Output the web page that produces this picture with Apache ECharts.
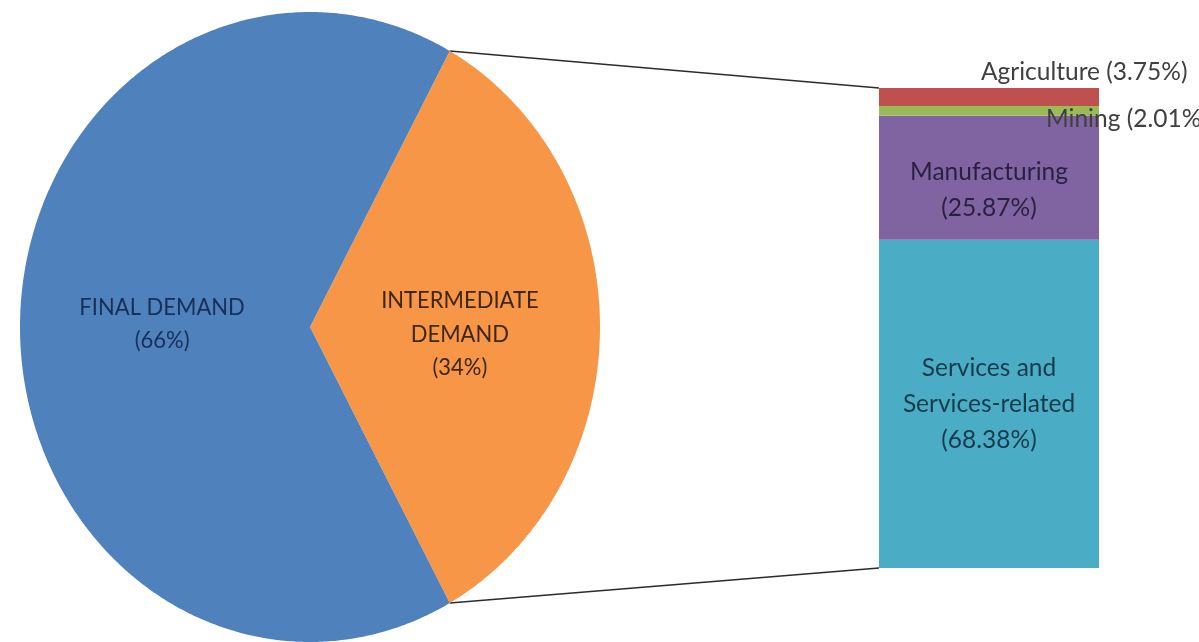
<!DOCTYPE html>
<html>
<head>
<meta charset="utf-8">
<script src="https://cdn.jsdelivr.net/npm/echarts@6/dist/echarts.min.js"></script>
<style>
  html, body { margin: 0; padding: 0; background: #ffffff; }
  #chart { width: 1199px; height: 642px; }
</style>
</head>
<body>
<div id="chart"></div>
<script>
// Split of total demand
const demandNames = ['INTERMEDIATE\nDEMAND', 'FINAL DEMAND'];
const demandShares = [34, 66];
const demandColors = ['#F79646', '#4F81BD'];
const demandTextColors = ['#3f2710', '#17305a'];
const demandLabelShift = [[2, 7], [0, -3]];

// Breakdown of intermediate demand by sector (stacked bottom to top)
const sectorNames = ['Services and\nServices-related', 'Manufacturing', 'Mining', 'Agriculture'];
const sectorShares = [68.38, 25.87, 2.01, 3.75];
const sectorColors = ['#4BACC6', '#8064A2', '#9BBB59', '#C0504D'];
const sectorTextColors = ['#163b4c', '#2a1f40', '#404040', '#404040'];

const FONT = 'Lato, "Noto Sans", sans-serif';

const demandTotal = demandShares.reduce((a, b) => a + b, 0);
const sectorTotal = sectorShares.reduce((a, b) => a + b, 0);

// The intermediate slice is centred on the right-hand horizontal.
const startAngle = 180 * demandShares[0] / demandTotal;

function sliceAngles(i) {
  let a0 = startAngle;
  for (let k = 0; k < i; k++) a0 -= 360 * demandShares[k] / demandTotal;
  return [a0, a0 - 360 * demandShares[i] / demandTotal];
}

function renderSlice(params, api) {
  const i = params.dataIndex;
  const [a0, a1] = sliceAngles(i);
  const pts = [api.coord([0, 0])];
  const steps = Math.ceil(Math.abs(a0 - a1) * 2);
  for (let s = 0; s <= steps; s++) {
    const t = (a0 + (a1 - a0) * s / steps) * Math.PI / 180;
    pts.push(api.coord([Math.cos(t), Math.sin(t)]));
  }
  const mid = (a0 + a1) / 2 * Math.PI / 180;
  const lp = api.coord([0.51 * Math.cos(mid), 0.51 * Math.sin(mid)]);
  return {
    type: 'group',
    children: [
      { type: 'polygon', shape: { points: pts }, style: { fill: demandColors[i] } },
      {
        type: 'text',
        x: lp[0] + demandLabelShift[i][0],
        y: lp[1] + demandLabelShift[i][1],
        scaleY: 1.08,
        z2: 10,
        style: {
          text: demandNames[i] + '\n(' + api.value(2) + '%)',
          fill: demandTextColors[i],
          fontFamily: FONT, fontSize: 22, lineHeight: 31,
          align: 'center', verticalAlign: 'middle'
        }
      }
    ]
  };
}

const labelPlacement = [
  { position: 'inside', offset: [0, 0] },
  { position: 'inside', offset: [0, 12] },
  { position: [167, 13], align: 'left', verticalAlign: 'middle' },
  { position: [102, -16], align: 'left', verticalAlign: 'middle' }
];

const barSeries = sectorNames.map((name, i) => ({
  type: 'bar',
  name: name,
  stack: 'sector',
  xAxisIndex: 1,
  yAxisIndex: 1,
  barWidth: '100%',
  data: [sectorShares[i]],
  itemStyle: { color: sectorColors[i] },
  silent: true,
  label: Object.assign({
    show: true,
    fontFamily: FONT,
    fontSize: 24.5,
    lineHeight: 36,
    color: sectorTextColors[i],
    formatter: () => i < 2
      ? name + '\n(' + sectorShares[i].toFixed(2) + '%)'
      : name + ' (' + sectorShares[i].toFixed(2) + '%)'
  }, labelPlacement[i])
}));

const chart = echarts.init(document.getElementById('chart'), null, { renderer: 'canvas' });

chart.setOption({
  animation: false,
  backgroundColor: '#ffffff',
  grid: [
    { left: 20, top: 12, width: 580, height: 634 },
    { left: 879, top: 88, width: 220, height: 480 }
  ],
  xAxis: [
    { type: 'value', gridIndex: 0, min: -1, max: 1, show: false },
    { type: 'category', gridIndex: 1, data: ['IO'], show: false }
  ],
  yAxis: [
    { type: 'value', gridIndex: 0, min: -1, max: 1, show: false },
    { type: 'value', gridIndex: 1, min: 0, max: sectorTotal, show: false }
  ],
  series: [
    {
      type: 'custom',
      xAxisIndex: 0,
      yAxisIndex: 0,
      silent: true,
      renderItem: renderSlice,
      encode: { x: 0, y: 1 },
      data: demandShares.map(v => [0, 0, v])
    }
  ].concat(barSeries)
});

// Connector lines from the intermediate slice edges to the bar corners
function drawConnectors() {
  const a = startAngle * Math.PI / 180;
  const pTop = chart.convertToPixel({ gridIndex: 0 }, [Math.cos(a), Math.sin(a)]);
  const pBot = chart.convertToPixel({ gridIndex: 0 }, [Math.cos(-a), Math.sin(-a)]);
  const bandAxis = chart.getModel().getComponent('xAxis', 1).axis;
  const bw = bandAxis.getBandWidth();
  const bTop = chart.convertToPixel({ gridIndex: 1 }, ['IO', sectorTotal]);
  const bBot = chart.convertToPixel({ gridIndex: 1 }, ['IO', 0]);
  const left = bTop[0] - bw / 2;
  const lineStyle = { stroke: '#2b2b2b', lineWidth: 1.5 };
  chart.setOption({
    graphic: [
      { type: 'line', shape: { x1: pTop[0], y1: pTop[1], x2: left, y2: bTop[1] }, style: lineStyle, silent: true },
      { type: 'line', shape: { x1: pBot[0], y1: pBot[1], x2: left, y2: bBot[1] }, style: lineStyle, silent: true }
    ]
  });
}
drawConnectors();
</script>
</body>
</html>
